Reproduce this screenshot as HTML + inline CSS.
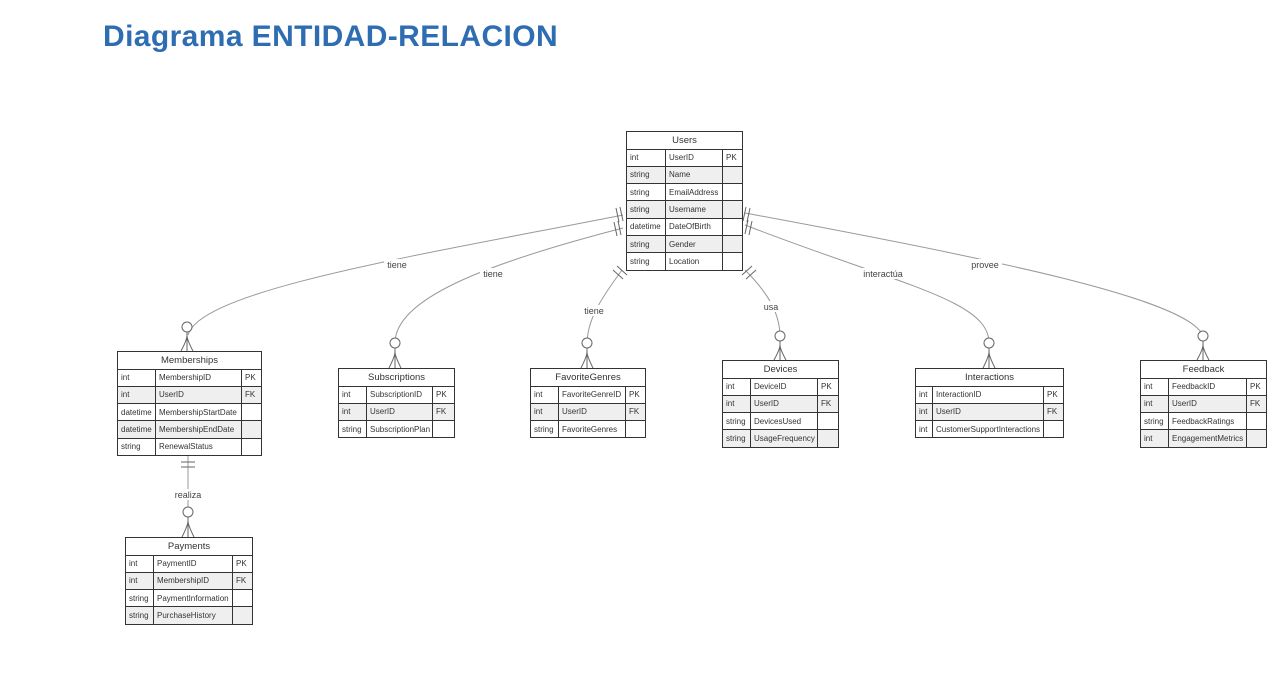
<!DOCTYPE html>
<html><head><meta charset="utf-8"><style>
body{margin:0;width:1279px;height:686px;background:#fff;position:relative;overflow:hidden;font-family:"Liberation Sans",sans-serif}
h1{position:absolute;left:103px;top:20px;margin:0;font-size:30px;font-weight:bold;color:#2f6db3;letter-spacing:0.4px}
table{position:absolute;border-collapse:collapse;background:#fff;font-size:8px;color:#333;table-layout:fixed}
td{border:1px solid #333;padding:0 0 0 3px;height:16.3px;white-space:nowrap;overflow:hidden}
th{border:1px solid #333;font-weight:normal;font-size:9.5px;height:16.5px;padding:0;text-align:center}
tr:nth-child(odd) td{background:#efefef}
svg{position:absolute;left:0;top:0}
.l{font-size:9px;fill:#444;font-family:"Liberation Sans",sans-serif}
</style></head><body>
<h1>Diagrama ENTIDAD-RELACION</h1>
<svg width="1279" height="686" fill="none" stroke="#999" stroke-width="1">
<path d="M623,215 C420,255 200,290 188,335"/>
<path d="M623,228 C480,265 395,300 395,343"/>
<path d="M622,270 C600,300 587,320 587,345"/>
<path d="M745,270 C770,295 780,315 780,337"/>
<path d="M745,225 C900,285 989,300 989,343"/>
<path d="M745,213 C1000,260 1190,300 1203,336"/>
<path d="M188,456 L188,520"/>
<g stroke="#666">
<path d="M616,208 l3,14 M620,207 l3,14"/><path d="M614,222 l3,14 M618,221 l3,14"/>
<path d="M746,207 l-3,14 M750,208 l-3,14"/><path d="M748,220 l-3,14 M752,221 l-3,14"/>
<path d="M613,270 l10,9 M617,266 l10,9"/><path d="M742,275 l10,-9 M746,279 l10,-9"/>
<path d="M181,462 h14 M181,467 h14"/>
</g>
<g stroke="#666">
<circle cx="187" cy="327" r="5" fill="#fff"/><path d="M187,332 V351 M181,351 Q187,340 187,335 Q187,340 193,351"/>
<circle cx="395" cy="343" r="5" fill="#fff"/><path d="M395,348 V368 M389,368 Q395,356 395,352 Q395,356 401,368"/>
<circle cx="587" cy="343" r="5" fill="#fff"/><path d="M587,348 V368 M581,368 Q587,356 587,352 Q587,356 593,368"/>
<circle cx="780" cy="336" r="5" fill="#fff"/><path d="M780,341 V360 M774,360 Q780,349 780,345 Q780,349 786,360"/>
<circle cx="989" cy="343" r="5" fill="#fff"/><path d="M989,348 V368 M983,368 Q989,356 989,352 Q989,356 995,368"/>
<circle cx="1203" cy="336" r="5" fill="#fff"/><path d="M1203,341 V360 M1197,360 Q1203,349 1203,345 Q1203,349 1209,360"/>
<circle cx="188" cy="512" r="5" fill="#fff"/><path d="M188,517 V537 M182,537 Q188,525 188,521 Q188,525 194,537"/>
</g>
<g stroke="none">
<rect x="384" y="259" width="26" height="11" fill="#fff"/><text class="l" x="397" y="268" text-anchor="middle">tiene</text>
<rect x="480" y="268" width="26" height="11" fill="#fff"/><text class="l" x="493" y="277" text-anchor="middle">tiene</text>
<rect x="581" y="305" width="26" height="11" fill="#fff"/><text class="l" x="594" y="314" text-anchor="middle">tiene</text>
<rect x="762" y="301" width="18" height="11" fill="#fff"/><text class="l" x="771" y="310" text-anchor="middle">usa</text>
<rect x="860" y="268" width="46" height="11" fill="#fff"/><text class="l" x="883" y="277" text-anchor="middle">interactúa</text>
<rect x="968" y="259" width="34" height="11" fill="#fff"/><text class="l" x="985" y="268" text-anchor="middle">provee</text>
<rect x="172" y="489" width="32" height="11" fill="#fff"/><text class="l" x="188" y="498" text-anchor="middle">realiza</text>
</g>
</svg>

<table style="left:626px;top:131px;width:116px"><colgroup><col style="width:39px"><col style="width:57px"><col style="width:20px"></colgroup>
<tr><th colspan="3">Users</th></tr>
<tr><td>int</td><td>UserID</td><td>PK</td></tr>
<tr><td>string</td><td>Name</td><td></td></tr>
<tr><td>string</td><td>EmailAddress</td><td></td></tr>
<tr><td>string</td><td>Username</td><td></td></tr>
<tr><td>datetime</td><td>DateOfBirth</td><td></td></tr>
<tr><td>string</td><td>Gender</td><td></td></tr>
<tr><td>string</td><td>Location</td><td></td></tr>
</table>

<table style="left:117px;top:351px;width:144px"><colgroup><col style="width:38px"><col style="width:86px"><col style="width:20px"></colgroup>
<tr><th colspan="3">Memberships</th></tr>
<tr><td>int</td><td>MembershipID</td><td>PK</td></tr>
<tr><td>int</td><td>UserID</td><td>FK</td></tr>
<tr><td>datetime</td><td>MembershipStartDate</td><td></td></tr>
<tr><td>datetime</td><td>MembershipEndDate</td><td></td></tr>
<tr><td>string</td><td>RenewalStatus</td><td></td></tr>
</table>

<table style="left:125px;top:537px;width:127px"><colgroup><col style="width:28px"><col style="width:79px"><col style="width:20px"></colgroup>
<tr><th colspan="3">Payments</th></tr>
<tr><td>int</td><td>PaymentID</td><td>PK</td></tr>
<tr><td>int</td><td>MembershipID</td><td>FK</td></tr>
<tr><td>string</td><td>PaymentInformation</td><td></td></tr>
<tr><td>string</td><td>PurchaseHistory</td><td></td></tr>
</table>

<table style="left:338px;top:368px;width:116px"><colgroup><col style="width:28px"><col style="width:66px"><col style="width:22px"></colgroup>
<tr><th colspan="3">Subscriptions</th></tr>
<tr><td>int</td><td>SubscriptionID</td><td>PK</td></tr>
<tr><td>int</td><td>UserID</td><td>FK</td></tr>
<tr><td>string</td><td>SubscriptionPlan</td><td></td></tr>
</table>

<table style="left:530px;top:368px;width:115px"><colgroup><col style="width:28px"><col style="width:67px"><col style="width:20px"></colgroup>
<tr><th colspan="3">FavoriteGenres</th></tr>
<tr><td>int</td><td>FavoriteGenreID</td><td>PK</td></tr>
<tr><td>int</td><td>UserID</td><td>FK</td></tr>
<tr><td>string</td><td>FavoriteGenres</td><td></td></tr>
</table>

<table style="left:722px;top:360px;width:116px"><colgroup><col style="width:28px"><col style="width:67px"><col style="width:21px"></colgroup>
<tr><th colspan="3">Devices</th></tr>
<tr><td>int</td><td>DeviceID</td><td>PK</td></tr>
<tr><td>int</td><td>UserID</td><td>FK</td></tr>
<tr><td>string</td><td>DevicesUsed</td><td></td></tr>
<tr><td>string</td><td>UsageFrequency</td><td></td></tr>
</table>

<table style="left:915px;top:368px;width:148px"><colgroup><col style="width:17px"><col style="width:111px"><col style="width:20px"></colgroup>
<tr><th colspan="3">Interactions</th></tr>
<tr><td>int</td><td>InteractionID</td><td>PK</td></tr>
<tr><td>int</td><td>UserID</td><td>FK</td></tr>
<tr><td>int</td><td>CustomerSupportInteractions</td><td></td></tr>
</table>

<table style="left:1140px;top:360px;width:126px"><colgroup><col style="width:28px"><col style="width:78px"><col style="width:20px"></colgroup>
<tr><th colspan="3">Feedback</th></tr>
<tr><td>int</td><td>FeedbackID</td><td>PK</td></tr>
<tr><td>int</td><td>UserID</td><td>FK</td></tr>
<tr><td>string</td><td>FeedbackRatings</td><td></td></tr>
<tr><td>int</td><td>EngagementMetrics</td><td></td></tr>
</table>
</body></html>
